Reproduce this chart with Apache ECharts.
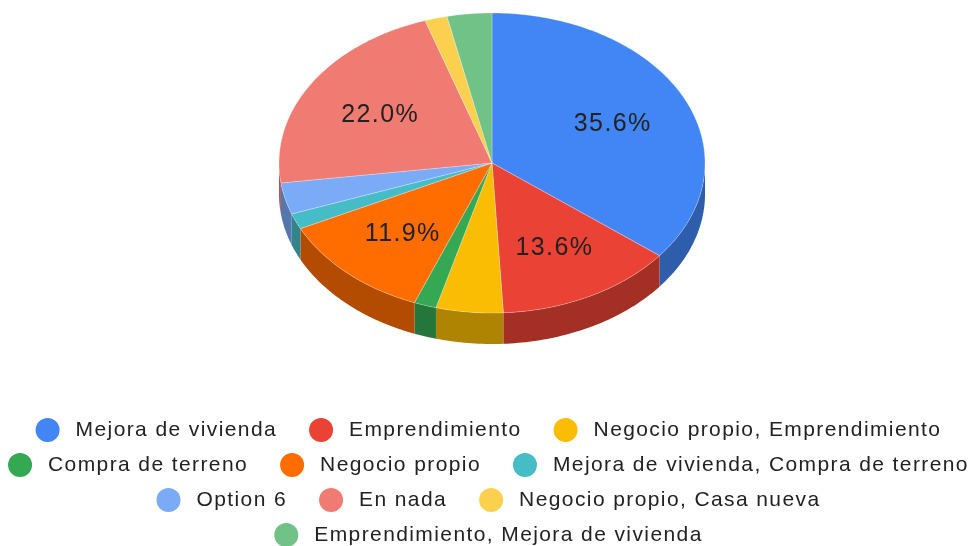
<!DOCTYPE html>
<html><head><meta charset="utf-8">
<style>html,body{margin:0;padding:0;background:#fff}#c{width:977px;height:546px}</style>
<script>
// Same tracking for text measuring and drawing: the reference text is letter-spaced.
(function(){
  const orig=HTMLCanvasElement.prototype.getContext;
  HTMLCanvasElement.prototype.getContext=function(){
    const ctx=orig.apply(this,arguments);
    if(ctx && 'letterSpacing' in ctx) ctx.letterSpacing='1.4px';
    return ctx;
  };
})();
</script>
<script src="https://cdn.jsdelivr.net/npm/echarts@6/dist/echarts.min.js"></script>
</head><body><div id="c"></div>
<script>
const categories = ['Mejora de vivienda','Emprendimiento','Negocio propio, Emprendimiento','Compra de terreno','Negocio propio','Mejora de vivienda, Compra de terreno','Option 6','En nada','Negocio propio, Casa nueva','Emprendimiento, Mejora de vivienda'];
const responses = [21,8,3,1,7,1,2,13,1,2];
const colors = ['#4285f4','#ea4335','#fbbc04','#34a853','#ff6d01','#46bdc6','#7baaf7','#f07b72','#fcd04f','#71c287'];
const legendRows = [categories.slice(0,3),categories.slice(3,6),categories.slice(6,9),categories.slice(9)];
const legendRowTops = [418,453,488,523];

const CX=492, CY=163, RX=213, RY=150, DEPTH=31, LABEL_R=0.625, LABEL_MIN=0.1;
const total = responses.reduce((a,b)=>a+b,0);
const startFrac = responses.map((v,i)=>responses.slice(0,i).reduce((a,b)=>a+b,0)/total);

function darken(hex,f){
  const n=parseInt(hex.slice(1),16);
  return 'rgb('+[(n>>16)&255,(n>>8)&255,n&255].map(c=>Math.round(c*f)).join(',')+')';
}
function pt(frac,dy){
  const a=frac*2*Math.PI;
  return [CX+RX*Math.sin(a), CY-RY*Math.cos(a)+(dy||0)];
}
function arc(f0,f1,dy){
  const out=[], n=Math.max(2,Math.ceil((f1-f0)*360));
  for(let k=0;k<=n;k++) out.push(pt(f0+(f1-f0)*k/n,dy));
  return out;
}
function renderSlice(i){
  return function(params,api){
    const frac=api.value(0)/total, f0=startFrac[i], f1=f0+frac;
    const children=[];
    const w0=Math.max(f0,0.25), w1=Math.min(f1,0.75);
    if(w1>w0){
      children.push({type:'polygon',shape:{points:arc(w0,w1,0).concat(arc(w0,w1,DEPTH).reverse())},
        style:{fill:darken(colors[i],0.7)}});
    }
    children.push({type:'polygon',shape:{points:[[CX,CY]].concat(arc(f0,f1,0))},
      style:{fill:colors[i],stroke:'rgba(255,255,255,0.45)',lineWidth:0.6}});
    if(frac>=LABEL_MIN){
      const m=pt(f0+frac/2,0);
      children.push({type:'text',style:{
        x:CX+(m[0]-CX)*LABEL_R+1, y:CY+(m[1]-CY)*LABEL_R+2,
        text:(frac*100).toFixed(1)+'%',
        font:'25px "Liberation Sans", Arial, sans-serif',fill:'#222',align:'center',verticalAlign:'middle'}});
    }
    return {type:'group',children};
  };
}
const chart=echarts.init(document.getElementById('c'),null,{renderer:'canvas'});
chart.setOption({
  animation:false,
  backgroundColor:'#fff',
  tooltip:{show:false},
  legend:legendRows.map((row,k)=>({
    data:row.map(n=>({name:n,icon:'circle'})),
    top:legendRowTops[k],left:'center',orient:'horizontal',padding:0,
    itemWidth:24,itemHeight:24,itemGap:32,selectedMode:false,
    textStyle:{fontFamily:'"Liberation Sans", Arial, sans-serif',fontSize:21,color:'#222',padding:[0,0,0,11]}
  })),
  series:categories.map((name,i)=>({
    type:'custom',name,coordinateSystem:'none',
    itemStyle:{color:colors[i]},
    renderItem:renderSlice(i),
    data:[[responses[i]]]
  }))
});
</script></body></html>
